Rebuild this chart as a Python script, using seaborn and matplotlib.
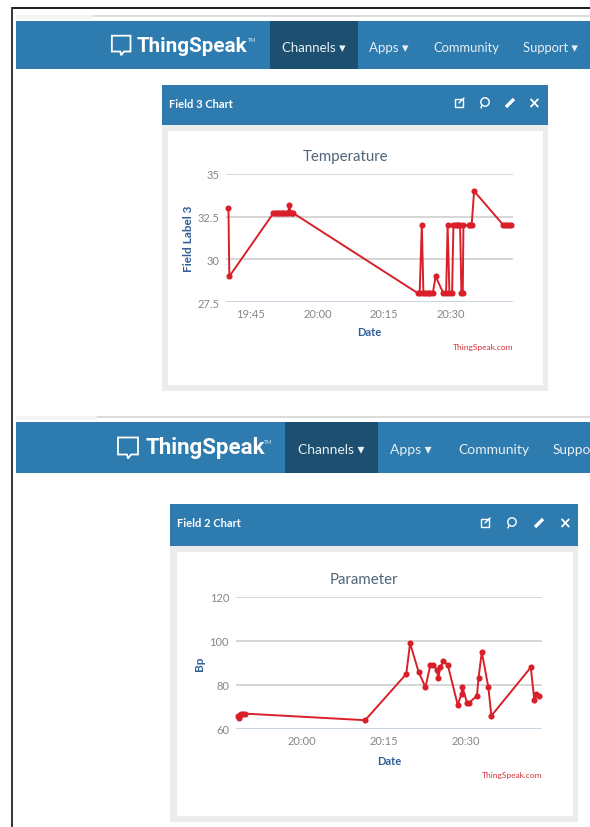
import matplotlib
matplotlib.use('Agg')
import matplotlib.pyplot as plt
from matplotlib.patches import Rectangle, Polygon, Circle
import pandas as pd
import seaborn as sns

# times are minutes after 19:00
temp_minutes = [40.0, 40.2, 50.1, 50.5, 50.85, 51.2, 51.6, 52.0, 52.35, 52.7, 53.1, 53.4, 53.7, 54.0, 54.3, 54.6,
                82.7, 83.0, 83.5, 83.85, 84.2, 84.6, 85.0, 85.35, 85.95,
                86.6, 88.35, 88.95, 89.3, 89.7, 90.3, 90.6, 91.0, 91.35, 91.7, 92.1, 92.4, 92.7, 92.85, 94.0, 94.4, 94.7, 95.25,
                101.85, 102.2, 102.6, 103.0, 103.5]
temp_values = [33, 29, 32.7, 32.7, 32.7, 32.7, 32.7, 32.7, 32.7, 32.7, 32.7, 32.7, 33.2, 32.7, 32.7, 32.7,
               28, 28, 32, 28, 28, 28, 28, 28, 28,
               29, 28, 28, 32, 28, 28, 32, 32, 32, 32, 32, 28, 28, 32, 32, 32, 32, 34,
               32, 32, 32, 32, 32]
temp_ticks = [45, 60, 75, 90]
temp_ticklabels = ['19:45', '20:00', '20:15', '20:30']
temp_yticks = [27.5, 30, 32.5, 35]
temp_yticklabels = ['27.5', '30', '32.5', '35']

bp_minutes = [48.4, 48.5, 48.6, 48.8, 49.0, 49.2, 49.6, 71.6, 79.1, 79.8, 81.35, 82.6, 83.5, 84.0, 84.7, 84.95, 85.3, 85.9, 86.7,
              88.5, 89.2, 89.35, 90.2, 90.6, 92.0, 92.3, 92.9, 94.1, 94.65, 101.85, 102.5, 102.8, 103.3]
bp_values = [66, 66, 65, 66.5, 67, 67, 67, 64, 85, 99, 86, 79, 89, 89, 87, 83, 88, 91, 89,
             71, 76, 79, 72, 72, 75, 83, 95, 79, 66, 88, 73, 76, 75]
bp_ticks = [60, 75, 90]
bp_ticklabels = ['20:00', '20:15', '20:30']
bp_yticks = [60, 80, 100, 120]

W, H = 590, 828
BLUE = '#2e7bb0'
DARK = '#1c4f70'
RED = '#d9202a'

sns.set_style('white')
plt.rcParams['font.family'] = ['Lato', 'DejaVu Sans']

fig = plt.figure(figsize=(W / 100, H / 100), dpi=100)

# page furniture drawn in pixel coordinates
bg = fig.add_axes([0, 0, 1, 1], zorder=0)
bg.set_xlim(0, W)
bg.set_ylim(H, 0)
bg.axis('off')


def box(x0, y0, x1, y1, color):
    bg.add_patch(Rectangle((x0, y0), x1 - x0, y1 - y0, color=color, lw=0))


def navbar(top, bottom, active0, active1, logo_x, logo_size, items, rule_x):
    box(16, top - 6, rule_x, top - 2, '#f4f4f4')
    box(rule_x, top - 6, W, top - 4, '#dcdcdc')
    box(16, top, W, bottom, BLUE)
    box(active0, top, active1, bottom, DARK)
    mid = (top + bottom) / 2
    # speech bubble logo
    s = logo_size / 16
    bg.add_patch(Polygon([(logo_x - 27 * s, mid - 10 * s), (logo_x - 7 * s, mid - 10 * s), (logo_x - 7 * s, mid + 7 * s),
                          (logo_x - 14 * s, mid + 7 * s), (logo_x - 17 * s, mid + 11 * s), (logo_x - 18 * s, mid + 7 * s),
                          (logo_x - 27 * s, mid + 7 * s)], closed=True, fill=False, ec='white', lw=1.3))
    bg.text(logo_x, mid, 'ThingSpeak', color='white', fontsize=logo_size, fontweight='bold', va='center', ha='left', family='Roboto')
    bg.text(logo_x + 7.45 * logo_size, mid - 6, 'TM', color='#dfeaf2', fontsize=4, va='center', ha='left')
    for label, x, size in items:
        bg.text(x, mid + 1.5, label, color='#e8f0f5', fontsize=size, va='center', ha='left')


def panel(x0, y0, x1, y1, header_h, name, inner, icon_xs):
    box(x0, y0, x1, y1, '#ececec')
    box(x0, y0, x1, y0 + header_h, BLUE)
    box(inner[0], y0 + header_h + 6, inner[1], y1 - 6, 'white')
    mid = y0 + header_h / 2
    bg.text(x0 + 7, mid - 2, name, color='white', fontsize=8, fontweight='bold', va='center')
    a, b, c, d = icon_xs
    mid = mid - 2
    bg.add_patch(Rectangle((a - 4, mid - 4), 8, 8, fill=False, ec='white', lw=1))
    bg.plot([a, a + 5], [mid, mid - 5], color='white', lw=1)
    bg.add_patch(Circle((b, mid - 1), 4.2, fill=False, ec='white', lw=1))
    bg.plot([b - 3, b - 4], [mid + 2, mid + 5], color='white', lw=1)
    bg.plot([c - 4, c + 4], [mid + 4, mid - 4], color='white', lw=2.4, solid_capstyle='butt')
    bg.text(d, mid, '\u00d7', color='white', fontsize=11, fontweight='bold', ha='center', va='center', family='DejaVu Sans')


# outer frame
box(11, 8, W, 9.5, '#222222')
box(11, 8, 13, H, '#3a3a3a')

navbar(22, 70, 270, 358, 137, 14.9,
       [('Channels \u25be', 282, 9.5), ('Apps \u25be', 369, 9.5), ('Community', 433, 9.3), ('Support \u25be', 523, 9.3)], 93)
navbar(423, 474, 285, 378, 145, 16,
       [('Channels \u25be', 298, 10), ('Apps \u25be', 390, 10), ('Community', 458, 10), ('Suppo', 553, 9.8)], 97)
panel(162, 86, 548, 392, 40, 'Field 3 Chart', (168, 543), (459, 485, 510, 533))
panel(170, 505, 578, 823, 42, 'Field 2 Chart', (177, 573), (485, 512, 539, 564))


def chart(box_px, minutes, values, xlim, ylim, xticks, xlabels, yticks, ylabels, title, title_x, ylabel, ylabel_pad,
          date_pad, credit_y):
    left, top, right, bottom = box_px
    ax = fig.add_axes([left / W, 1 - bottom / H, (right - left) / W, (bottom - top) / H], zorder=2)
    ax.patch.set_alpha(0)
    df = pd.DataFrame({'minutes': minutes, 'value': values})
    sns.lineplot(data=df, x='minutes', y='value', ax=ax, color=RED, lw=1.4, marker='o', markersize=4.4,
                 markeredgewidth=0, estimator=None, sort=False, clip_on=False, zorder=3)
    ax.set_xlim(*xlim)
    ax.set_ylim(*ylim)
    ax.set_xticks(xticks, xlabels)
    ax.set_yticks(yticks, ylabels)
    ax.tick_params(axis='both', length=0, labelsize=8, labelcolor='#868686')
    ax.tick_params(axis='x', pad=4)
    ax.tick_params(axis='y', pad=5)
    ax.grid(axis='y', color='#d0d0d0', lw=1.2)
    ax.set_axisbelow(True)
    sns.despine(ax=ax, left=True, top=True, right=True, bottom=True)
    ax.axhline(ylim[0], color='#c5d5e5', lw=1.1, zorder=2)
    ax.set_title(title, x=title_x, fontsize=10.8, color='#4f6579', pad=10)
    ax.set_xlabel('Date', fontsize=8, fontweight='bold', color='#2f5f96', labelpad=date_pad)
    ax.set_ylabel(ylabel, fontsize=8.5, fontweight='bold', color='#2f5f96', labelpad=ylabel_pad)
    bg.text(right, credit_y, 'ThingSpeak.com', color='#d9303a', fontsize=6, ha='right', va='center')
    return ax


chart((226, 175, 513, 303), temp_minutes, temp_values, (39.45, 104), (27.5, 35), temp_ticks, temp_ticklabels,
      temp_yticks, temp_yticklabels, 'Temperature', 0.415, 'Field Label 3', 2, 5, 348)
chart((236, 598, 542, 730), bp_minutes, bp_values, (48, 103.9), (60, 120), bp_ticks, bp_ticklabels,
      bp_yticks, [str(v) for v in bp_yticks], 'Parameter', 0.418, 'Bp', 3, 6.5, 776)

fig.savefig('out.png', dpi=100)
